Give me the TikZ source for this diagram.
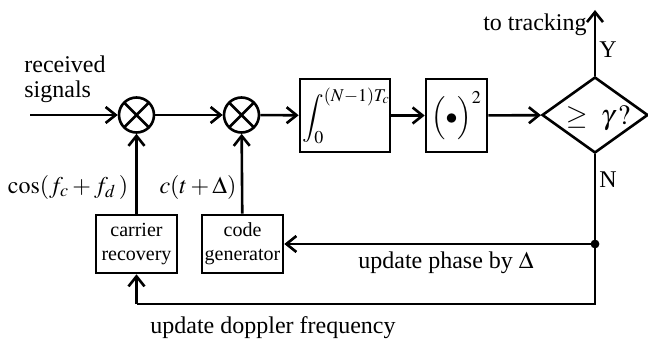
\documentclass[tikz,border=0pt]{standalone}
\usepackage{mathptmx}
\usepackage[no-math]{fontspec}
\setmainfont{Liberation Serif}
\usetikzlibrary{arrows.meta,shapes.geometric}

\tikzset{
  sig/.style={line width=1.3pt,-{Straight Barb[length=5pt,width=8pt,line width=1.3pt]}},
  wire/.style={line width=1.3pt},
  mixer/.style={circle,draw,line width=1.3pt,minimum size=17.5pt,inner sep=0pt,
    path picture={\draw[line width=1.3pt] (path picture bounding box.north west) -- (path picture bounding box.south east)
      (path picture bounding box.south west) -- (path picture bounding box.north east);}},
  block/.style={draw,line width=1.3pt,minimum height=36.5pt,inner sep=0pt},
  smallblock/.style={draw,line width=1.3pt,minimum width=40.5pt,minimum height=29pt,inner sep=0pt,
    align=center,font=\fontsize{10}{12}\selectfont},
  lbl/.style={font=\fontsize{12}{12.5}\selectfont,inner sep=0pt}
}

\begin{document}
\begin{tikzpicture}[x=0.5pt,y=-0.5pt]
\useasboundingbox (0,0) rectangle (648,342);

% forward path
\coordinate (in) at (30,115);
\node[mixer] (mix1) at (136.5,115) {};
\node[mixer] (mix2) at (241.5,115) {};
\node[block,minimum width=45pt] (integ) at (345,115.5) {};
\node[lbl,anchor=west,font=\fontsize{12}{12}\selectfont] at (302,115.5)
  {$\displaystyle\int_0^{(N-1)T_c}$};
\node[block,minimum width=30.5pt,font=\fontsize{12}{12}\selectfont] (sq) at (456.5,115.5)
  {$\Bigl(\bullet\Bigr)^2$};
\node[diamond,draw,line width=1.3pt,inner sep=0pt,minimum width=53pt,minimum height=38pt] (dec) at (595,115) {};
\node[lbl,font=\fontsize{14}{14}\selectfont] at (598,118) {$\geq\ \gamma\,?$};
\coordinate (out) at (595,10);

\draw[sig] (in) -- (mix1);
\draw[sig] (mix1) -- (mix2);
\draw[sig] (mix2) -- (integ);
\draw[sig] (integ) -- (sq);
\draw[sig] (sq) -- (dec);
\draw[sig] (dec) -- (out);

% feedback
\node[smallblock] (carrier) at (136.5,244) {carrier\\recovery};
\node[smallblock] (code) at (242.5,244) {code\\generator};
\coordinate (split) at (595,244);
\coordinate (corner) at (595,304);
\coordinate (back) at (136.5,304);

\draw[sig] (carrier) -- (mix1);
\draw[sig] (code) -- (mix2);
\draw[wire] (dec.south) -- (split) -- (corner) -- (back);
\draw[sig] (back) -- (carrier);
\draw[sig] (split) -- (code);
\fill (split) circle[radius=2.2pt];

% labels
\node[lbl,align=left] (recv) at (65,79) {received\\signals};
\node[lbl] (cosl) at (68,187) {$\cos(f_c+f_d\,)$};
\node[lbl] (codel) at (198,187) {$c(t+\Delta)$};
\node[lbl,anchor=east] (trk) at (587,25) {to tracking};
\node[lbl] (yes) at (608,50) {Y};
\node[lbl] (no) at (608,180) {N};
\node[lbl] (phase) at (446,263) {update phase by $\Delta$};
\node[lbl] (dopp) at (273,328) {update doppler frequency};
\end{tikzpicture}
\end{document}
